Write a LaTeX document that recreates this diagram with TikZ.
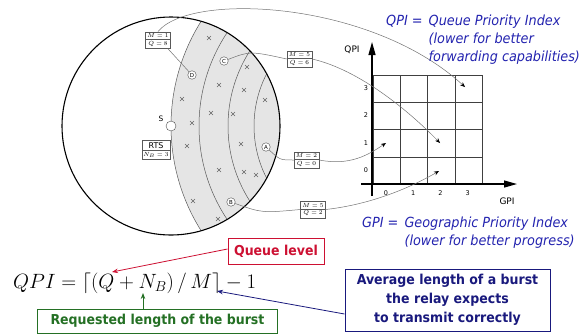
\documentclass[tikz,border=0pt]{standalone}
\usepackage{fontspec}
\setsansfont{DejaVu Sans}
\newfontfamily\notefont[FakeStretch=0.92]{DejaVu Sans}
\usetikzlibrary{shapes.multipart, positioning, arrows.meta, calc}
\definecolor{idxblue}{RGB}{35,35,175}
\definecolor{navyblue}{RGB}{25,25,125}
\definecolor{queuered}{RGB}{205,16,50}
\definecolor{burstgreen}{RGB}{36,112,36}
\tikzset{
  relay/.style={circle, draw=black!70, fill=white, inner sep=0pt, minimum size=8.5bp, font=\sffamily\fontsize{5.5}{6}\selectfont},
  mqbox/.style={rectangle split, rectangle split parts=2, draw=black!65, fill=white, inner xsep=1.5bp, inner ysep=1.6bp, minimum width=25bp, font=\fontsize{6.5}{7}\selectfont},
  link/.style={black!55, line width=0.5bp},
  prio/.style={link, -{Stealth[black, length=5bp, width=4bp]}},
  xmark/.style={black!60, line width=0.45bp},
  gridline/.style={black!75, line width=0.5bp},
  axis/.style={black, line width=1.2bp, -{Triangle[length=13bp, width=7bp]}},
  ticklabel/.style={font=\sffamily\fontsize{6.5}{6.5}\selectfont, inner sep=0pt},
  axlabel/.style={font=\sffamily\fontsize{9}{9}\selectfont, inner sep=0pt},
  idx_note/.style={font=\notefont\itshape\fontsize{14}{18}\selectfont, text=idxblue, inner sep=0pt, align=left},
  callout/.style={draw, line width=1bp, fill=white, font=\notefont\bfseries\fontsize{13.7}{19}\selectfont, align=center, inner sep=2bp},
  callarrow/.style={line width=0.8bp, -{Stealth[length=6bp, width=4.5bp]}}
}

\begin{document}
\begin{tikzpicture}[x=1bp, y=-1bp]
  \useasboundingbox (0,0) rectangle (587,335);

  % Zona gris y arcos
  \begin{scope}
    \clip (171,126) circle (109);
    \fill[gray!20] (368,126) circle (197);
    \foreach \r in {197,169,140,114}
      \draw[black!65, line width=0.5bp] (368,126) circle (\r);
  \end{scope}
  \draw[line width=1.1bp] (171,126) circle (109);

  % Nodos vecinos
  \foreach \cx/\cy in {209/38, 247/67, 219/85, 244/90, 265/100, 182/99, 211/113, 233/114,
                       192/123, 187/146, 241/144, 219/170, 244/172, 256/175, 193/201, 218/219}
    \draw[xmark] (\cx,\cy) ++(-2,-2) -- ++(4,4) ++(-4,0) -- ++(4,-4);

  \node[relay, minimum size=10bp] (S) at (171,126) {};
  \node[axlabel, font=\sffamily\fontsize{7.5}{7.5}\selectfont] (Slabel) at (161,119) {S};
  \node[relay] (D) at (192,75) {D};
  \node[relay] (C) at (224,61) {C};
  \node[relay] (A) at (266,147) {A};
  \node[relay] (B) at (231,202) {B};

  % Cajas M / Q
  \node[mqbox] (boxD) at (158,40) {$M = 1$\nodepart{second}$Q = 8$};
  \node[mqbox] (boxC) at (299.5,59) {$M = 5$\nodepart{second}$Q = 6$};
  \node[mqbox] (boxA) at (306.5,160) {$M = 2$\nodepart{second}$Q = 0$};
  \node[mqbox] (boxB) at (313,209.5) {$M = 5$\nodepart{second}$Q = 2$};
  \node[mqbox] (rts) at (156,150) {\sffamily\fontsize{8}{8}\selectfont RTS\nodepart{second}$N_B = 3$};

  % Rejilla GPI / QPI
  \coordinate (O) at (373,184);
  \foreach \i in {0,...,4} {
    \draw[gridline] ($(O)+(\i*27.25,0)$) -- ++(0,-109);
    \draw[gridline] ($(O)+(0,-\i*27.25)$) -- ++(109,0);
  }
  \coordinate (qbot) at (372,196);
  \coordinate (qtop) at (372,42);
  \coordinate (gleft) at (361,184);
  \coordinate (gright) at (517,184);
  \draw[axis] (qbot) -- (qtop);
  \draw[axis] (gleft) -- (gright);
  \foreach \k in {0,...,3} {
    \node[ticklabel] (g\k) at ({386+\k*27.25},193) {\k};
    \node[ticklabel] (q\k) at (366,{170-\k*27.25}) {\k};
  }
  \node[axlabel] (qpiaxis) at (352,50) {QPI};
  \node[axlabel] (gpiaxis) at (507,201) {GPI};

  % Conexiones
  \coordinate (tD) at (465,87);
  \coordinate (tC) at (440,143);
  \coordinate (tA) at (386,143);
  \coordinate (tB) at (439,171);
  \draw[link] ([xshift=-3bp]boxD.south east) -- (D);
  \draw[prio] (boxD.north) .. controls (190,-8) and (370,0) .. (tD);
  \draw[link] (C) .. controls (250,51) .. (boxC.west);
  \draw[prio] (boxC.east) .. controls (360,70) and (410,112) .. (tC);
  \draw[link] (A) .. controls (280,160) .. (boxA.west);
  \draw[prio] (boxA.east) .. controls (350,166) and (368,155) .. (tA);
  \draw[link] (B) .. controls (262,213) .. (boxB.west);
  \draw[prio] (boxB.east) .. controls (375,204) and (415,185) .. (tB);

  % Textos de los indices
  \node[idx_note, anchor=north west] (qpinote) at (386,13)
    {\begin{tabular}{@{}l@{\hspace{6bp}}l@{}}QPI = & Queue Priority Index\\ & (lower for better\\ & forwarding capabilities)\end{tabular}};
  \node[idx_note, anchor=north west] (gpinote) at (362,215)
    {\begin{tabular}{@{}l@{\hspace{6bp}}l@{}}GPI = & Geographic Priority Index\\ & (lower for better progress)\end{tabular}};

  % Formula
  \node[inner sep=0pt, anchor=base west, font=\fontsize{22}{26}\selectfont] (qpiform) at (13,288)
    {$QPI = \Big\lceil (Q + N_B)\,/\,M \Big\rceil - 1$};
  \coordinate (Qpt) at (112,272);
  \coordinate (Npt) at (143,293);
  \coordinate (Mpt) at (217,291);

  \node[callout, draw=queuered, text=queuered, minimum width=96bp, minimum height=26bp] (queue) at (276,251) {Queue level};
  \node[callout, draw=burstgreen, text=burstgreen, minimum width=239bp, minimum height=24bp] (burst) at (157.5,321) {Requested length of the burst};
  \node[callout, draw=navyblue, text=navyblue, minimum width=205bp, minimum height=62bp] (avg) at (447.5,300)
    {Average length of a burst\\the relay expects\\to transmit correctly};

  \draw[callarrow, queuered] ([yshift=2bp]queue.west) -- (Qpt);
  \draw[callarrow, burstgreen] (burst.north -| Npt) -- (Npt);
  \draw[callarrow, navyblue] ([yshift=-14bp]avg.west) -- (Mpt);
\end{tikzpicture}
\end{document}
